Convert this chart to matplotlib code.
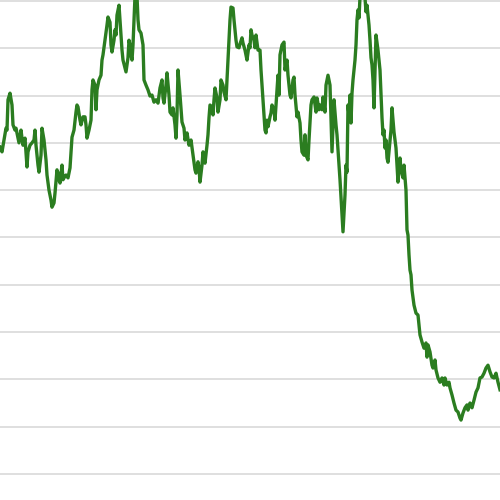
import matplotlib
matplotlib.use("Agg")
import matplotlib.pyplot as plt

# ===== 数据（时间序列） =====
t = [0, 2, 4, 6, 7, 8, 10, 12, 13, 15,
     16, 18, 19, 21, 22, 23, 25, 27, 28, 30,
     32, 34, 35, 36, 38, 39, 41, 42, 44, 46,
     47, 49, 51, 52, 54, 55, 57, 58, 59, 60,
     62, 63, 64, 66, 68, 70, 72, 74, 76, 77,
     78, 80, 81, 83, 85, 86, 87, 89, 91, 92,
     93, 95, 96, 97, 99, 101, 102, 103, 105, 107,
     108, 110, 111, 112, 114, 115, 116, 117, 119, 120,
     121, 122, 123, 125, 126, 128, 129, 130, 131, 132,
     133, 134, 135, 137, 138, 139, 141, 143, 144, 146,
     148, 150, 152, 154, 156, 158, 160, 162, 163, 164,
     166, 167, 169, 170, 172, 173, 175, 176, 177, 178,
     180, 182, 184, 185, 187, 189, 191, 193, 195, 196,
     198, 199, 200, 202, 203, 205, 207, 208, 209, 210,
     212, 213, 214, 215, 217, 218, 220, 221, 223, 224,
     226, 228, 230, 231, 233, 234, 236, 237, 239, 240,
     242, 243, 245, 247, 249, 250, 251, 252, 254, 255,
     256, 258, 260, 261, 263, 265, 266, 267, 268, 270,
     271, 272, 274, 275, 277, 278, 279, 280, 282, 284,
     285, 287, 288, 290, 291, 293, 294, 295, 297, 298,
     300, 301, 302, 304, 305, 306, 308, 309, 311, 312,
     314, 316, 317, 319, 320, 322, 323, 325, 326, 328,
     330, 331, 332, 334, 336, 337, 338, 340, 342, 343,
     345, 346, 347, 348, 349, 350, 351, 352, 353, 355,
     356, 357, 358, 359, 360, 363, 365, 366, 367, 369,
     370, 371, 372, 373, 374, 375, 376, 378, 379, 380,
     381, 382, 383, 384, 385, 386, 387, 388, 390, 391,
     392, 393, 394, 395, 396, 397, 398, 399, 400, 401,
     403, 404, 405, 406, 407, 408, 409, 410, 411, 412,
     414, 416, 418, 419, 420, 422, 424, 426, 427, 428,
     430, 432, 433, 435, 436, 438, 440, 442, 444, 445,
     447, 449, 450, 452, 454, 456, 458, 460, 461, 463,
     465, 467, 468, 470, 472, 474, 476, 478, 480, 482,
     484, 486, 488, 490, 492, 494, 496, 498, 500]

price = [69.1, 68.1, 70.6, 73.1, 72.7, 79.1, 80.5, 78.0, 73.8, 72.7,
         73.1, 71.0, 70.0, 72.7, 71.0, 69.5, 71.0, 64.9, 68.1, 69.5,
         70.0, 70.6, 72.7, 69.5, 65.3, 63.8, 67.4, 73.1, 70.6, 66.4,
         63.2, 60.0, 57.9, 56.4, 57.3, 59.4, 64.3, 62.2, 63.6, 61.5,
         65.3, 62.2, 62.6, 63.2, 62.6, 64.7, 71.2, 72.7, 76.5, 78.0,
         77.6, 74.8, 73.8, 75.5, 75.5, 73.8, 71.0, 72.7, 74.8, 81.2,
         83.3, 82.2, 77.0, 81.2, 83.3, 84.3, 87.5, 88.6, 91.7, 94.9,
         96.6, 95.5, 90.7, 89.2, 91.7, 93.9, 92.8, 97.0, 99.1, 96.0,
         92.8, 89.6, 87.5, 85.8, 85.0, 88.0, 91.7, 90.7, 88.6, 87.5,
         90.7, 96.0, 101.0, 101.0, 96.0, 93.9, 93.2, 90.7, 83.3, 82.2,
         81.2, 79.9, 80.1, 78.6, 79.1, 78.4, 81.6, 83.3, 79.5, 78.4,
         82.2, 84.8, 80.1, 76.5, 75.9, 77.4, 73.8, 71.0, 75.9, 85.4,
         80.1, 74.4, 73.1, 70.6, 72.1, 69.5, 70.6, 67.4, 64.3, 63.6,
         66.0, 64.7, 61.7, 65.3, 68.1, 65.7, 69.5, 71.7, 75.3, 78.0,
         77.6, 75.9, 79.1, 81.6, 79.5, 76.5, 79.1, 83.3, 82.2, 80.7,
         79.1, 87.5, 96.0, 98.7, 98.5, 96.0, 91.7, 90.3, 90.1, 90.9,
         92.2, 91.1, 89.6, 87.5, 90.7, 90.1, 93.9, 92.8, 91.7, 90.1,
         92.8, 89.6, 89.6, 85.4, 79.1, 72.7, 72.1, 74.8, 73.4, 75.5,
         76.3, 78.0, 77.0, 74.8, 81.2, 84.3, 80.1, 88.6, 90.7, 91.3,
         85.4, 87.5, 84.3, 80.1, 79.5, 83.3, 83.9, 80.1, 75.5, 76.5,
         74.2, 70.6, 68.1, 67.4, 71.7, 67.4, 66.4, 70.6, 78.0, 79.1,
         79.7, 76.5, 79.5, 77.0, 78.0, 77.0, 79.7, 76.5, 82.2, 84.3,
         82.2, 74.8, 68.1, 79.1, 73.8, 71.7, 68.5, 62.2, 54.7, 51.2,
         59.0, 65.3, 63.8, 78.0, 75.9, 80.1, 74.2, 80.5, 83.3, 87.5,
         90.7, 96.0, 98.1, 96.4, 100.8, 101.5, 100.6, 97.7, 99.1, 94.9,
         91.7, 88.0, 86.5, 83.3, 77.4, 85.4, 92.8, 89.6, 87.5, 85.4,
         80.1, 75.3, 71.7, 72.7, 68.9, 70.6, 66.8, 65.9, 70.6, 72.7,
         77.4, 74.8, 72.3, 70.6, 68.9, 65.3, 61.7, 64.7, 66.8, 64.3,
         62.6, 65.3, 62.6, 60.0, 51.6, 50.5, 46.3, 43.1, 42.1, 38.9,
         35.7, 34.0, 33.6, 31.5, 29.4, 27.9, 26.6, 27.7, 24.7, 27.3,
         25.8, 23.0, 22.4, 24.1, 22.0, 20.3, 19.4, 20.3, 18.8, 20.3,
         18.8, 19.4, 18.2, 16.7, 15.0, 13.5, 13.1, 11.8, 11.4, 12.9,
         14.0, 14.6, 13.5, 15.0, 14.0, 15.6, 17.3, 18.2, 20.3, 20.5,
         21.3, 22.4, 23.0, 21.6, 20.5, 20.3, 21.3, 19.4, 17.8]

grid_levels = list(range(0, 101, 10))

# ===== 绘图 =====
fig = plt.figure(figsize=(5, 5), dpi=100)
ax = fig.add_axes([0, 0, 1, 1])

for g in grid_levels:
    ax.axhline(g, color="#dcdcdc", linewidth=1.3, zorder=1)

ax.plot(t, price, color="#2b7d20", linewidth=2.4, zorder=2)

ax.set_xlim(0, 500)
ax.set_ylim(-5.5, 100.2)
ax.axis("off")

fig.savefig("out.png", dpi=100)
